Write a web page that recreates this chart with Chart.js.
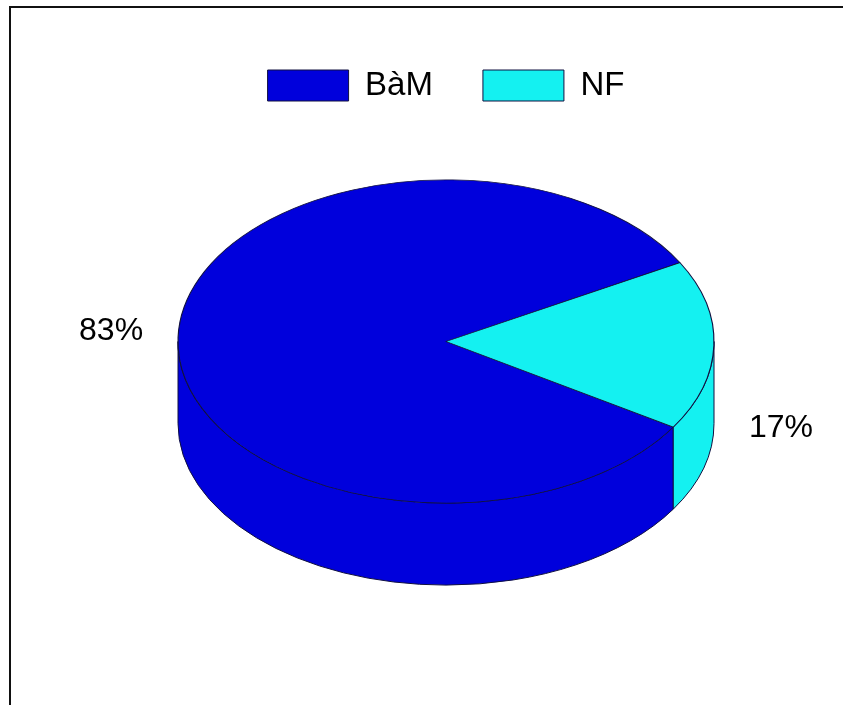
<!DOCTYPE html>
<html lang="en">
<head>
<meta charset="UTF-8">
<title>BàM / NF</title>
<script src="https://cdn.jsdelivr.net/npm/chart.js"></script>
<style>
  body { margin: 0; background: #fff; }
  #wrap { position: relative; width: 843px; height: 705px; overflow: hidden; }
  #frame { position: absolute; left: 9px; top: 6px; right: -10px; bottom: -10px;
           border-left: 2px solid #111; border-top: 2px solid #111; pointer-events: none; }
  canvas { position: absolute; left: 0; top: 0; }
</style>
</head>
<body>
<div id="wrap">
  <canvas id="torta" width="843" height="705"></canvas>
  <div id="frame"></div>
</div>
<script>
const categorie = ['BàM', 'NF'];
const valori = [83, 17];
const etichette = ['83%', '17%'];
const colori = ['#0000DC', '#14F1F1'];

// aspetto 3D
const pieRx = 268;     // semiasse orizzontale in px
const tilt = 0.603;    // rapporto ry / rx
const depth = 82;      // spessore della torta
const bordo = '#101040';
const labelGap = 67;
const labelShiftY = [-6, 83];
const fontTesto = '"Liberation Sans", Arial, sans-serif';

const torta3d = {
  id: 'torta3d',
  beforeDatasetsDraw(chart) {
    const ctx = chart.ctx;
    const meta = chart.getDatasetMeta(0);
    const rx = pieRx, ry = pieRx * tilt;
    // pareti laterali (solo la metà davanti)
    meta.data.forEach((arc, i) => {
      const { x, y, startAngle, endAngle } = arc;
      for (let k = -1; k <= 2; k++) {
        const a = Math.max(startAngle, 2 * Math.PI * k);
        const b = Math.min(endAngle, 2 * Math.PI * k + Math.PI);
        if (b <= a) continue;
        ctx.beginPath();
        ctx.ellipse(x, y, rx, ry, 0, a, b);
        ctx.ellipse(x, y + depth, rx, ry, 0, b, a, true);
        ctx.closePath();
        ctx.fillStyle = colori[i];
        ctx.fill();
        ctx.strokeStyle = bordo;
        ctx.lineWidth = 1;
        ctx.stroke();
      }
    });
    // schiaccia il cerchio in un'ellisse
    const arc0 = meta.data[0];
    const sx = rx / arc0.outerRadius;
    const sy = ry / arc0.outerRadius;
    ctx.save();
    ctx.translate(arc0.x, arc0.y);
    ctx.scale(sx, sy);
    ctx.translate(-arc0.x, -arc0.y);
  },
  afterDatasetsDraw(chart) {
    const ctx = chart.ctx;
    ctx.restore();
    const meta = chart.getDatasetMeta(0);
    const ry = pieRx * tilt;
    ctx.save();
    ctx.fillStyle = '#000';
    ctx.font = '32px ' + fontTesto;
    ctx.textAlign = 'center';
    ctx.textBaseline = 'middle';
    meta.data.forEach((arc, i) => {
      const mid = (arc.startAngle + arc.endAngle) / 2;
      const px = arc.x + (pieRx + labelGap) * Math.cos(mid);
      const py = arc.y + ry * Math.sin(mid) + labelShiftY[i];
      ctx.fillText(etichette[i], px, py);
    });
    ctx.restore();
  }
};

new Chart(document.getElementById('torta'), {
  type: 'pie',
  data: {
    labels: categorie,
    datasets: [{
      data: valori,
      backgroundColor: colori,
      borderColor: bordo,
      borderWidth: 1,
      clip: false
    }]
  },
  options: {
    responsive: false,
    animation: false,
    rotation: 122,
    layout: { padding: { top: 19, bottom: 134, left: 49, right: 0 } },
    plugins: {
      legend: {
        position: 'top',
        labels: {
          boxWidth: 81,
          boxHeight: 31,
          padding: 50,
          color: '#000',
          font: { size: 33, family: fontTesto }
        }
      },
      tooltip: { enabled: false }
    }
  },
  plugins: [torta3d]
});
</script>
</body>
</html>
